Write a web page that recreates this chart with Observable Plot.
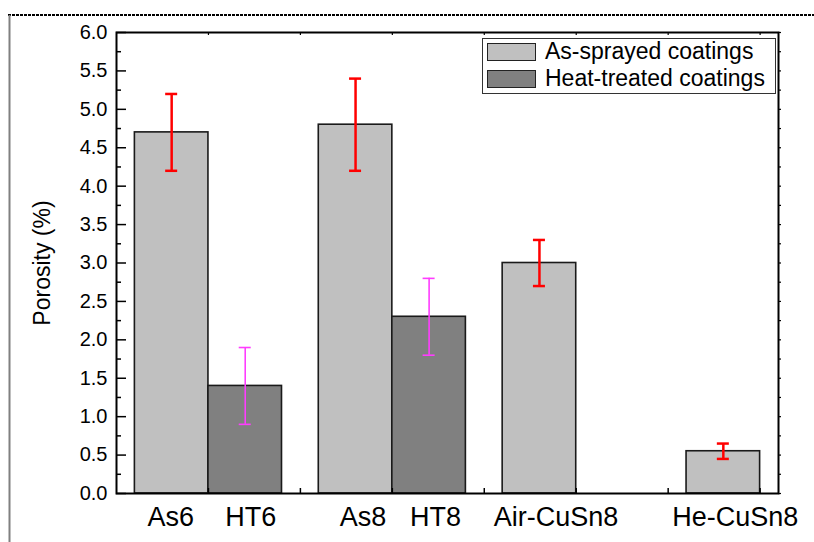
<!DOCTYPE html>
<html>
<head>
<meta charset="utf-8">
<script src="https://cdn.jsdelivr.net/npm/d3@7"></script>
<script src="https://cdn.jsdelivr.net/npm/@observablehq/plot@0.6"></script>
<style>
  html, body { margin: 0; padding: 0; background: #fff; }
  #wrap { position: relative; width: 814px; height: 542px; overflow: hidden; font-family: "Liberation Sans", Arial, sans-serif; }
  #chart svg { position: absolute; left: 0; top: 0; }
  #deco { position: absolute; left: 0; top: 0; }
  #legend { position: absolute; left: 482px; top: 38px; width: 292px; height: 54px; border: 1px solid #333; background: #fff; }
  .sw { position: absolute; left: 4px; width: 47px; height: 16px; border: 1px solid #222; }
  .lt { position: absolute; left: 62px; font-size: 23px; line-height: 23px; color: #000; white-space: nowrap; }
</style>
</head>
<body>
<div id="wrap">
  <div id="chart"></div>
  <svg id="deco" width="814" height="542">
    <line x1="8" y1="15" x2="814" y2="15" stroke="#000" stroke-width="2" stroke-dasharray="3 1"></line>
    <line x1="9.5" y1="15" x2="9.5" y2="542" stroke="#808080" stroke-width="2"></line>
  </svg>
  <div id="legend"></div>
</div>
<script>
// ---- data ----
const categories = ["As6", "HT6", "As8", "HT8", "Air-CuSn8", "He-CuSn8"];
const seriesOf = ["As-sprayed coatings", "Heat-treated coatings", "As-sprayed coatings", "Heat-treated coatings", "As-sprayed coatings", "As-sprayed coatings"];
const barX = [0.6, 1.4, 2.6, 3.4, 4.6, 6.6];          // bar centres on the x axis
const porosity = [4.7, 1.4, 4.8, 2.3, 3.0, 0.55];
const errors = [0.5, 0.5, 0.6, 0.5, 0.3, 0.1];
const labelX = [0.59, 1.46, 2.68, 3.47, 4.78, 6.73];  // category label positions
const seriesNames = ["As-sprayed coatings", "Heat-treated coatings"];
const seriesFill = ["#c0c0c0", "#808080"];
const seriesErr = ["#ff0000", "#ff3cff"];
const yMajor = d3.range(0, 6.001, 0.5);
const yMinor = d3.range(0.25, 6, 0.5);
const xTicks = [1, 2, 3, 4, 5, 6, 7];

// ---- layout ----
const W = 814, H = 542;
const mL = 116, mR = 36, mT = 32, mB = 49;
const xDom = [0, 7.2], yDom = [0, 6];
const kx = (xDom[1] - xDom[0]) / (W - mL - mR);
const ky = (yDom[1] - yDom[0]) / (H - mT - mB);
const barW = 0.8;

const bars = categories.map((c, i) => ({
  cat: c, series: seriesOf[i], x: barX[i], v: porosity[i], e: errors[i],
  si: seriesNames.indexOf(seriesOf[i])
}));
const caps = bars.flatMap(d => [{...d, y: d.v - d.e}, {...d, y: d.v + d.e}]);
const labels = categories.map((c, i) => ({text: c, x: labelX[i]}));

const plot = Plot.plot({
  width: W, height: H,
  marginLeft: mL, marginRight: mR, marginTop: mT, marginBottom: mB,
  style: {fontFamily: '"Liberation Sans", Arial, sans-serif', color: "#000", background: "transparent"},
  x: {domain: xDom, axis: null},
  y: {domain: yDom, axis: null},
  marks: [
    Plot.rect(bars, {
      x1: d => d.x - barW / 2, x2: d => d.x + barW / 2, y1: 0, y2: "v",
      fill: d => seriesFill[d.si], stroke: "#1a1a1a", strokeWidth: 1.6
    }),
    Plot.ruleX(bars, {
      x: "x", y1: d => d.v - d.e, y2: d => d.v + d.e,
      stroke: d => seriesErr[d.si], strokeWidth: d => d.si === 0 ? 2.5 : 1.6
    }),
    Plot.ruleY(caps, {
      y: "y", x1: d => d.x - 6 * kx, x2: d => d.x + 6 * kx,
      stroke: d => seriesErr[d.si], strokeWidth: d => d.si === 0 ? 2.5 : 1.6
    }),
    // inward ticks
    Plot.ruleY(yMajor, {y: d => d, x1: xDom[0], x2: xDom[0] + 10 * kx, stroke: "#000", strokeWidth: 1.5}),
    Plot.ruleY(yMinor, {y: d => d, x1: xDom[0], x2: xDom[0] + 5 * kx, stroke: "#000", strokeWidth: 1.5}),
    Plot.ruleY(yMajor.concat(yMinor), {y: d => d, x1: xDom[1], x2: xDom[1] + 3 * kx, stroke: "#000", strokeWidth: 1.2}),
    Plot.ruleX(xTicks, {x: d => d, y1: yDom[1], y2: yDom[1] - 3 * ky, stroke: "#000", strokeWidth: 1.2}),
    Plot.ruleX(xTicks, {x: d => d, y1: yDom[0], y2: yDom[0] + 5 * ky, stroke: "#000", strokeWidth: 1.5}),
    Plot.frame({stroke: "#000", strokeWidth: 2}),
    // y tick labels
    Plot.text(yMajor, {x: xDom[0], y: d => d, text: d => d3.format(".1f")(d), textAnchor: "end", dx: -9, fontSize: 20, fill: "#000"}),
    Plot.text(["Porosity (%)"], {frameAnchor: "left", dx: -74, rotate: -90, fontSize: 23, fill: "#000", textAnchor: "middle"}),
    Plot.text(labels, {x: "x", y: 0, text: "text", dy: 24, fontSize: 27, fill: "#000", textAnchor: "middle"})
  ]
});
document.getElementById("chart").appendChild(plot);

// ---- legend (inside the plot area, as in the reference) ----
const legend = document.getElementById("legend");
seriesNames.forEach((name, i) => {
  const sw = document.createElement("div");
  sw.className = "sw";
  sw.style.top = (4 + i * 27) + "px";
  sw.style.background = seriesFill[i];
  legend.appendChild(sw);
  const t = document.createElement("div");
  t.className = "lt";
  t.style.top = (1 + i * 27) + "px";
  t.textContent = name;
  legend.appendChild(t);
});
</script>
</body>
</html>
